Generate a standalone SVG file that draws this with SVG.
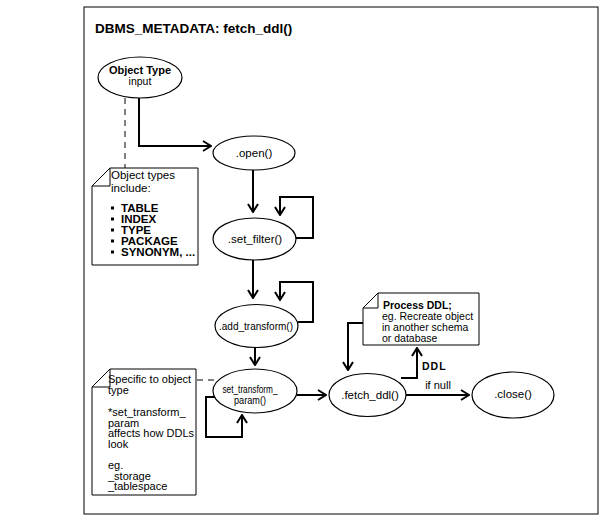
<svg xmlns="http://www.w3.org/2000/svg" width="600" height="526" viewBox="0 0 600 526">
<style>
text{font-family:"Liberation Sans",Arial,sans-serif;fill:#000}
.t{font-size:11px}
.b{font-weight:bold}
.n{fill:#fff;stroke:#000;stroke-width:1.2}
.note{fill:#fff;stroke:#000;stroke-width:1}
.c{fill:none;stroke:#000;stroke-width:2}
.d{fill:none;stroke:#000;stroke-width:1;stroke-dasharray:6,5}
</style>
<defs>
<marker id="ah" markerWidth="10" markerHeight="12" refX="9" refY="6" orient="auto" markerUnits="userSpaceOnUse">
<path d="M1,1 L9,6 L1,11" fill="none" stroke="#000" stroke-width="2"/>
</marker>
</defs>
<rect x="84" y="7" width="514" height="507" fill="#fff" stroke="#000" stroke-width="1"/>
<text x="95" y="33" class="b" style="font-size:13.5px">DBMS_METADATA: fetch_ddl()</text>

<g id="connectors">
<line class="d" x1="125" y1="98" x2="125" y2="168"/>
<line class="d" x1="197" y1="380" x2="216" y2="380"/>
<path class="c" d="M139,98 V146 H211" marker-end="url(#ah)"/>
<path class="c" d="M253,170 V212" marker-end="url(#ah)"/>
<path class="c" d="M296,238 H313 V197 H280 V215" marker-end="url(#ah)"/>
<path class="c" d="M253,260 V298" marker-end="url(#ah)"/>
<path class="c" d="M298,322 H313 V282 H280 V300" marker-end="url(#ah)"/>
<path class="c" d="M255,348 V365" marker-end="url(#ah)"/>
<path class="c" d="M215,397 H206 V437 H242 V415" marker-end="url(#ah)"/>
<path class="c" d="M297,395 H326" marker-end="url(#ah)"/>
<path class="c" d="M406,395 H469" marker-end="url(#ah)"/>
<path class="c" d="M401,378 H417 V348" marker-end="url(#ah)"/>
<path class="c" d="M363,323 H348 V370" marker-end="url(#ah)"/>
</g>

<g id="objtype">
<ellipse class="n" cx="140" cy="77.5" rx="42" ry="20.5"/>
<text x="140" y="74" class="t b" text-anchor="middle">Object Type</text>
<text x="140" y="85" class="t" text-anchor="middle" style="font-size:10.5px">input</text>
</g>

<g id="open">
<ellipse class="n" cx="254" cy="153" rx="41" ry="17"/>
<text x="254" y="157" class="t" text-anchor="middle" style="font-size:11.5px">.open()</text>
</g>

<g id="set_filter">
<ellipse class="n" cx="254.5" cy="239" rx="41.5" ry="21"/>
<text x="255" y="243" class="t" text-anchor="middle" style="font-size:11.5px">.set_filter()</text>
</g>

<g id="add_transform">
<ellipse class="n" cx="256.5" cy="326" rx="41.5" ry="21.5"/>
<text x="256" y="330" class="t" text-anchor="middle" textLength="74" lengthAdjust="spacingAndGlyphs">.add_transform()</text>
</g>

<g id="set_transform_param">
<ellipse class="n" cx="255" cy="391" rx="42" ry="22"/>
<text x="250" y="393" class="t" text-anchor="middle" textLength="55" lengthAdjust="spacingAndGlyphs">set_transform_</text>
<text x="250" y="404" class="t" text-anchor="middle" textLength="32" lengthAdjust="spacingAndGlyphs">param()</text>
</g>

<g id="fetch_ddl">
<ellipse class="n" cx="367.5" cy="395" rx="38.5" ry="21.5"/>
<text x="370" y="399" class="t" text-anchor="middle" style="font-size:11.5px">.fetch_ddl()</text>
</g>

<g id="close">
<ellipse class="n" cx="513" cy="395" rx="41" ry="23"/>
<text x="513" y="398" class="t" text-anchor="middle" style="font-size:11.5px">.close()</text>
</g>

<g id="labels">
<text x="438" y="389" class="t" text-anchor="middle">if null</text>
<text x="422" y="370" class="t b" style="font-size:10.5px;letter-spacing:1px">DDL</text>
</g>

<g id="note_types">
<path class="note" d="M110,168 H198 V265 H92 V186 Z"/>
<path class="note" d="M92,186 L110,168 V186 Z"/>
<text x="111" y="179" class="t" style="font-size:11.5px">Object types</text>
<text x="111" y="191.5" class="t" style="font-size:11.5px">include:</text>
<g class="t b" style="font-size:11.5px">
<text x="121" y="212">TABLE</text>
<text x="121" y="223">INDEX</text>
<text x="121" y="234">TYPE</text>
<text x="121" y="245">PACKAGE</text>
<text x="121" y="256">SYNONYM, ...</text>
</g>
<g fill="#000">
<rect x="111" y="206.5" width="3" height="3"/>
<rect x="111" y="217.5" width="3" height="3"/>
<rect x="111" y="228.5" width="3" height="3"/>
<rect x="111" y="239.5" width="3" height="3"/>
<rect x="111" y="250.5" width="3" height="3"/>
</g>
</g>

<g id="note_specific">
<path class="note" d="M110,369 H196 V495 H92 V387 Z"/>
<path class="note" d="M92,387 L110,369 V387 Z"/>
<g class="t">
<text x="108" y="383">Specific to object</text>
<text x="108" y="394">type</text>
<text x="108" y="416">*set_transform_</text>
<text x="108" y="426.5">param</text>
<text x="108" y="437">affects how DDLs</text>
<text x="108" y="447.5">look</text>
<text x="108" y="469">eg.</text>
<text x="108" y="479.5">_storage</text>
<text x="108" y="490">_tablespace</text>
</g>
</g>

<g id="note_process">
<path class="note" d="M378,293 H479 V345 H363 V308 Z"/>
<path class="note" d="M363,308 L378,293 V308 Z"/>
<text x="383" y="309" class="t b" style="font-size:10.5px">Process DDL;</text>
<g class="t" style="font-size:10.5px">
<text x="382" y="320">eg. Recreate object</text>
<text x="382" y="331">in another schema</text>
<text x="382" y="342">or database</text>
</g>
</g>
</svg>
